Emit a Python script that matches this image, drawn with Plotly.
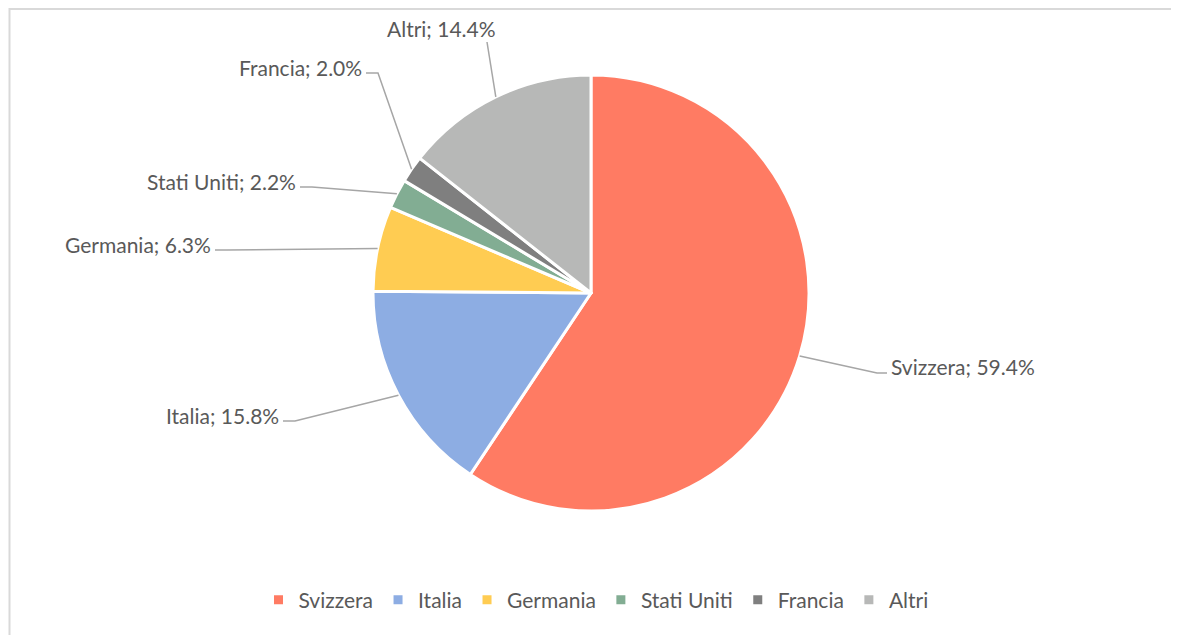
import math
import plotly.graph_objects as go

# ---- data ----
countries = ["Svizzera", "Italia", "Germania", "Stati Uniti", "Francia", "Altri"]
shares = [59.4, 15.8, 6.3, 2.2, 2.0, 14.4]
colors = ["#FF7B63", "#8DADE3", "#FFCC52", "#82AD93", "#7F7F7F", "#B7B8B7"]

# ---- layout helpers (page pixels; the page body has an 8px margin) ----
OFF = 8
W, H = 1171, 627
CX, CY, R = 591, 293, 218
# label elbow anchor (page px) and text side -- layout only
label_layout = [
    (887, 373, "left"),    # Svizzera
    (283, 421, "right"),   # Italia
    (215, 250, "right"),   # Germania
    (300, 187, "right"),   # Stati Uniti
    (366, 73, "right"),    # Francia
    (487, 42, "top"),      # Altri
]

def px(x):
    return (x - OFF) / W

def py(y):
    return 1 - (y - OFF) / H

FONT = "Lato"
FS = 21
TXT = "#595959"

fig = go.Figure()
fig.add_trace(go.Pie(
    labels=countries,
    values=shares,
    sort=False,
    direction="clockwise",
    rotation=0,
    marker=dict(colors=colors, line=dict(color="white", width=3)),
    textinfo="none",
    hoverinfo="label+percent",
    domain=dict(x=[px(CX - R), px(CX + R)], y=[py(CY + R), py(CY - R)]),
))

total = sum(shares)
cum = 0.0
shapes = []
annotations = []
for name, val, (ex, ey, side) in zip(countries, shares, label_layout):
    mid = (cum + val / 2) / total * 2 * math.pi
    cum += val
    sx = CX + R * math.sin(mid)
    sy = CY - R * math.cos(mid)
    label = f"{name}; {val:.1f}%"
    font = dict(family=FONT, size=FS, color=TXT)
    if side == "left":
        path = f"M {px(sx)},{py(sy)} L {px(ex - 10)},{py(ey)} L {px(ex)},{py(ey)}"
        annotations.append(dict(x=px(ex + 2), y=py(ey - 6), xref="paper", yref="paper",
                                text=label, showarrow=False, xanchor="left", yanchor="middle",
                                font=font))
    elif side == "right":
        path = f"M {px(sx)},{py(sy)} L {px(ex + 12)},{py(ey)} L {px(ex)},{py(ey)}"
        annotations.append(dict(x=px(ex - 2), y=py(ey - 6), xref="paper", yref="paper",
                                text=label, showarrow=False, xanchor="right", yanchor="middle",
                                font=font))
    else:
        path = f"M {px(sx)},{py(sy)} L {px(ex)},{py(ey)}"
        annotations.append(dict(x=px(ex - 46), y=py(ey - 14), xref="paper", yref="paper",
                                text=label, showarrow=False, xanchor="center", yanchor="middle",
                                font=font))
    shapes.append(dict(type="path", path=path, xref="paper", yref="paper",
                       line=dict(color="#A6A6A6", width=1.5)))

# chart border
shapes.append(dict(type="rect", xref="paper", yref="paper",
                   x0=px(9.5), x1=px(1172), y0=py(660), y1=py(9),
                   line=dict(color="#D9D9D9", width=2), fillcolor="rgba(0,0,0,0)"))

fig.update_layout(
    width=W, height=H,
    margin=dict(l=0, r=0, t=0, b=0),
    paper_bgcolor="white",
    plot_bgcolor="white",
    showlegend=True,
    legend=dict(orientation="h", x=px(596), xanchor="center", y=py(600), yanchor="middle",
                font=dict(family=FONT, size=FS, color=TXT),
                itemwidth=30, tracegroupgap=0),
    shapes=shapes,
    annotations=annotations,
)

fig.write_html("out.html")
